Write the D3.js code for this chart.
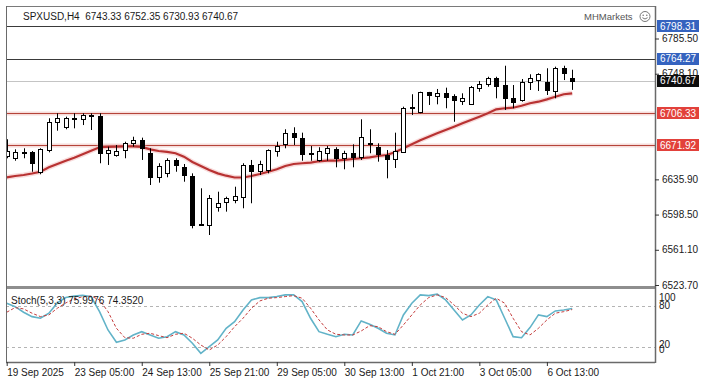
<!DOCTYPE html>
<html>
<head>
<meta charset="utf-8">
<script src="https://cdn.jsdelivr.net/npm/d3@7"></script>
<style>
  body { margin: 0; background: #fff; }
  svg text { font-family: "Liberation Sans", Arial, sans-serif; font-size: 10px; fill: #1a1a1a; }
</style>
</head>
<body>
<div id="container"></div>
<script>
/* CONSTANTS AND GLOBALS */
const width = 707, height = 387;
const plotL = 6, plotR = 655, plotT = 6, mainBottom = 286, stochTop = 290, stochBottom = 362;

/* DATA */
const symbolTitle = "SPXUSD,H4  6743.33 6752.35 6730.93 6740.67";
const stochTitle = "Stoch(5,3,3) 75.9976 74.3520";

const opens = [6660.7, 6658.9, 6665.3, 6665.3, 6644.0, 6667.1, 6697.1, 6691.8, 6700.8, 6700.3,
  6703.9, 6703.0, 6663.6, 6661.8, 6667.1, 6674.2, 6677.7, 6663.6, 6638.1, 6642.3,
  6656.5, 6649.4, 6639.5, 6588.0, 6587.4, 6606.9, 6612.2, 6614.0, 6617.5, 6650.8,
  6644.8, 6645.8, 6666.3, 6673.5, 6684.8, 6680.2, 6663.0, 6656.5, 6664.2, 6667.8,
  6658.3, 6664.2, 6660.0, 6674.0, 6670.6, 6661.8, 6657.5, 6665.3, 6712.4, 6707.1,
  6728.4, 6724.8, 6727.3, 6724.8, 6719.1, 6715.6, 6733.3, 6736.9, 6743.2, 6736.1,
  6722.0, 6720.2, 6739.0, 6741.1, 6739.0, 6729.8, 6754.5, 6743.33];
const highs = [6678.5, 6667.8, 6668.9, 6666.0, 6668.9, 6700.8, 6706.1, 6702.5, 6706.1, 6706.1,
  6706.1, 6706.1, 6670.6, 6672.4, 6675.9, 6681.2, 6680.2, 6668.9, 6653.0, 6658.3,
  6658.3, 6652.2, 6642.3, 6626.4, 6619.3, 6622.8, 6617.5, 6628.1, 6653.0, 6656.5,
  6655.7, 6667.8, 6675.9, 6689.1, 6691.2, 6685.5, 6671.3, 6670.0, 6671.3, 6670.0,
  6666.3, 6673.1, 6699.7, 6689.1, 6674.2, 6667.1, 6685.5, 6713.1, 6726.3, 6729.0,
  6728.8, 6731.9, 6733.3, 6726.3, 6727.3, 6735.1, 6740.4, 6744.9, 6744.9, 6756.6,
  6736.1, 6742.5, 6747.5, 6748.6, 6753.9, 6755.6, 6756.6, 6752.35];
const lows = [6658.3, 6655.7, 6658.3, 6644.0, 6641.3, 6664.6, 6687.6, 6689.1, 6690.1, 6693.6,
  6688.3, 6653.0, 6651.2, 6660.0, 6658.3, 6670.6, 6656.5, 6629.9, 6632.4, 6638.1,
  6644.0, 6633.4, 6583.9, 6587.0, 6576.8, 6601.6, 6601.6, 6610.5, 6605.2, 6610.5,
  6640.5, 6642.3, 6660.0, 6668.9, 6672.4, 6655.7, 6655.7, 6654.7, 6655.7, 6648.7,
  6646.6, 6648.7, 6656.5, 6663.6, 6654.7, 6637.0, 6648.0, 6664.6, 6704.3, 6706.1,
  6714.9, 6715.6, 6711.4, 6697.1, 6714.9, 6714.9, 6729.0, 6734.3, 6722.0, 6709.6,
  6711.4, 6718.4, 6730.8, 6729.8, 6725.5, 6722.0, 6741.4, 6730.93];
const closes = [6666.3, 6664.6, 6663.6, 6653.0, 6667.8, 6697.1, 6700.8, 6700.8, 6701.2, 6703.9,
  6703.5, 6663.6, 6667.1, 6666.0, 6674.2, 6677.7, 6668.9, 6638.1, 6650.1, 6656.5,
  6651.2, 6640.5, 6587.4, 6589.0, 6615.8, 6611.1, 6615.8, 6618.2, 6651.2, 6644.8,
  6652.2, 6667.1, 6671.3, 6684.8, 6680.6, 6662.8, 6663.6, 6666.0, 6668.9, 6658.3,
  6664.2, 6659.3, 6681.2, 6673.1, 6662.8, 6657.2, 6666.0, 6712.0, 6711.6, 6728.4,
  6725.5, 6727.3, 6723.1, 6720.2, 6722.6, 6734.3, 6736.9, 6743.9, 6735.4, 6722.0,
  6718.4, 6739.0, 6743.2, 6747.5, 6730.8, 6754.5, 6748.6, 6740.67];
const movingAvg = [6638.1, 6639.5, 6640.5, 6642.1, 6644.0, 6648.7, 6652.2, 6655.7, 6658.9, 6662.5,
  6666.3, 6670.0, 6670.4, 6670.6, 6670.9, 6670.9, 6670.4, 6667.8, 6666.0, 6665.0,
  6663.6, 6660.0, 6654.3, 6650.1, 6645.8, 6642.3, 6639.8, 6637.9, 6637.9, 6639.5,
  6641.6, 6644.0, 6646.6, 6650.1, 6652.2, 6653.0, 6653.6, 6655.1, 6655.7, 6655.7,
  6656.5, 6657.5, 6658.3, 6659.3, 6660.7, 6661.8, 6664.6, 6668.9, 6673.1, 6677.4,
  6681.2, 6684.8, 6688.3, 6691.8, 6695.4, 6699.0, 6702.5, 6706.1, 6710.3, 6711.4,
  6712.0, 6714.1, 6716.7, 6718.4, 6720.9, 6723.7, 6726.3, 6727.3];
const stochMain = [83.6, 78.6, 70.4, 64, 61.6, 69, 84, 92, 94, 95,
  93, 71.3, 44.5, 26.5, 29.9, 37.2, 42, 37.2, 32.4, 34.7,
  42, 37.2, 25, 10.4, 20, 29.9, 47, 56.7, 73.8, 88.4,
  91.8, 91.8, 93.3, 95.8, 95.8, 86, 61.6, 42, 38.2, 34.7,
  38.2, 37.2, 57.7, 52.9, 47, 39.7, 37.2, 66.5, 83.6, 95.8,
  94.7, 96.8, 88.4, 73.8, 59.2, 66.5, 81.1, 93.3, 88.4, 61.6,
  34.7, 33.2, 47.9, 66.5, 64, 72.3, 73.8, 76.0];
const stochSignal = [70.4, 77.2, 75.3, 69, 64, 66.5, 76.3, 84, 90, 93,
  94, 88.4, 71.3, 47, 33.2, 32.4, 38.2, 39.7, 36.2, 33.2,
  38.2, 39.7, 32.4, 22.5, 15.2, 22.5, 34.7, 49.3, 61.6, 76.3,
  87, 90.9, 91.8, 93.3, 94.7, 90.9, 76.3, 59.2, 44.5, 38.2,
  37.2, 37.2, 43, 50.8, 49.3, 42, 38.2, 51.8, 66.5, 81.1,
  91.8, 95.8, 91.8, 81.1, 69, 64, 69, 81.1, 90.9, 83.6,
  61.6, 42, 37.2, 47, 59.2, 69, 71.3, 74.35];

const timeLabels = ["19 Sep 2025", "23 Sep 05:00", "24 Sep 13:00", "25 Sep 21:00", "29 Sep 05:00",
  "30 Sep 13:00", "1 Oct 21:00", "3 Oct 05:00", "6 Oct 13:00"];
const timeTickBars = [0, 8, 16, 24, 32, 40, 48, 56, 64];
// 6710.70 and 6673.30 sit under the red tags in the reference, so they are left out
const priceTicks = [6785.50, 6748.10, 6635.90, 6598.50, 6561.10, 6523.70];
const blueLevels = [6798.31, 6764.27];
const redLevels = [6706.33, 6671.92];
const lastPrice = 6740.67;
const stochLevels = [80, 20];
const stochTicks = [100, 80, 20, 0];

/* SCALES */
const x = d3.scaleLinear().domain([0, opens.length - 1]).range([6.7, 572.2]);
const y = d3.scaleLinear().domain([6523.70, 6764.27]).range([285, 58.5]);
const yS = d3.scaleLinear().domain([0, 100]).range([360.4, 292]);

const svg = d3.select("#container").append("svg")
  .attr("width", width)
  .attr("height", height)
  .style("display", "block")
  .style("background", "#fff");

const defs = svg.append("defs");
defs.append("clipPath").attr("id", "clipMain")
  .append("rect").attr("x", plotL).attr("y", plotT).attr("width", plotR - plotL).attr("height", mainBottom - plotT);
defs.append("clipPath").attr("id", "clipStoch")
  .append("rect").attr("x", plotL).attr("y", stochTop).attr("width", plotR - plotL).attr("height", stochBottom - stochTop);

/* MAIN PANEL */
const main = svg.append("g").attr("clip-path", "url(#clipMain)");

main.selectAll("line.blue").data(blueLevels).join("line")
  .attr("x1", plotL).attr("x2", plotR)
  .attr("y1", d => Math.round(y(d)) + 0.5).attr("y2", d => Math.round(y(d)) + 0.5)
  .attr("stroke", "#3a3a3a").attr("stroke-width", 1);

// faint pink halo under the red levels, as in the screenshot
main.selectAll("line.redHalo").data(redLevels).join("line")
  .attr("x1", plotL).attr("x2", plotR)
  .attr("y1", d => Math.round(y(d)) + 0.5).attr("y2", d => Math.round(y(d)) + 0.5)
  .attr("stroke", "#f6dcda").attr("stroke-width", 4);
main.selectAll("line.red").data(redLevels).join("line")
  .attr("x1", plotL).attr("x2", plotR)
  .attr("y1", d => Math.round(y(d)) + 0.5).attr("y2", d => Math.round(y(d)) + 0.5)
  .attr("stroke", "#b5443a").attr("stroke-width", 1);

main.append("line")
  .attr("x1", plotL).attr("x2", plotR)
  .attr("y1", Math.round(y(lastPrice)) + 0.5).attr("y2", Math.round(y(lastPrice)) + 0.5)
  .attr("stroke", "#c4c4c4").attr("stroke-width", 1);

const maLine = d3.line().x((d, i) => x(i)).y(d => y(d));
main.append("path").datum(movingAvg)
  .attr("d", maLine).attr("fill", "none")
  .attr("stroke", "#f3c4c4").attr("stroke-width", 5).attr("opacity", 0.6);
main.append("path").datum(movingAvg)
  .attr("d", maLine).attr("fill", "none")
  .attr("stroke", "#b83232").attr("stroke-width", 2.2);

const candles = opens.map((o, i) => ({ i, o, h: highs[i], l: lows[i], c: closes[i] }));

main.selectAll("line.wick").data(candles).join("line")
  .attr("class", "wick")
  .attr("x1", d => Math.round(x(d.i)) + 0.5).attr("x2", d => Math.round(x(d.i)) + 0.5)
  .attr("y1", d => y(d.h)).attr("y2", d => y(d.l))
  .attr("stroke", "#000").attr("stroke-width", 1);

main.selectAll("rect.body").data(candles).join("rect")
  .attr("class", "body")
  .attr("x", d => Math.round(x(d.i)) - 1.5)
  .attr("width", 4)
  .attr("y", d => Math.round(y(Math.max(d.o, d.c))) + 0.5)
  .attr("height", d => Math.max(1, Math.round(y(Math.min(d.o, d.c))) - Math.round(y(Math.max(d.o, d.c)))))
  .attr("fill", d => d.c >= d.o ? "#fff" : "#000")
  .attr("stroke", "#000").attr("stroke-width", 1);

/* STOCH PANEL */
const stoch = svg.append("g").attr("clip-path", "url(#clipStoch)");
stoch.selectAll("line.lvl").data(stochLevels).join("line")
  .attr("x1", plotL).attr("x2", plotR)
  .attr("y1", d => Math.round(yS(d)) + 0.5).attr("y2", d => Math.round(yS(d)) + 0.5)
  .attr("stroke", "#b4b4b4").attr("stroke-dasharray", "3,3");

const sLine = d3.line().x((d, i) => x(i)).y(d => yS(d));
stoch.append("path").datum(stochMain)
  .attr("d", sLine).attr("fill", "none")
  .attr("stroke", "#62b3c8").attr("stroke-width", 1.6);
stoch.append("path").datum(stochSignal)
  .attr("d", sLine).attr("fill", "none")
  .attr("stroke", "#c53d3d").attr("stroke-width", 1).attr("stroke-dasharray", "3,2");

/* FRAMES */
svg.append("line").attr("x1", plotL).attr("x2", plotR).attr("y1", plotT + 0.5).attr("y2", plotT + 0.5)
  .attr("stroke", "#7a7a7a");
svg.append("rect").attr("x", plotL).attr("y", mainBottom).attr("width", plotR - plotL).attr("height", 3)
  .attr("fill", "#8e8e8e");
svg.append("line").attr("x1", plotL + 0.5).attr("x2", plotL + 0.5).attr("y1", plotT).attr("y2", stochBottom)
  .attr("stroke", "#6a6a6a");
svg.append("line").attr("x1", plotR + 0.5).attr("x2", plotR + 0.5).attr("y1", plotT).attr("y2", stochBottom + 1)
  .attr("stroke", "#6a6a6a").attr("stroke-width", 1.5);
svg.append("line").attr("x1", plotL).attr("x2", plotR).attr("y1", stochBottom + 0.5).attr("y2", stochBottom + 0.5)
  .attr("stroke", "#6a6a6a").attr("stroke-width", 1.5);

/* AXES */
const priceAxis = d3.axisRight(y).tickValues(priceTicks).tickFormat(d3.format(".2f"))
  .tickSize(4).tickPadding(3);
svg.append("g").attr("transform", `translate(${plotR},0)`).call(priceAxis)
  .call(g => g.select(".domain").remove())
  .call(g => g.selectAll("line").attr("stroke", "#333"))
  .call(g => g.selectAll("text").attr("font-size", 10).attr("font-family", "Liberation Sans, Arial, sans-serif").attr("fill", "#1a1a1a"));

const stochAxis = d3.axisRight(yS).tickValues(stochTicks).tickFormat(d3.format("d"))
  .tickSize(0).tickPadding(4);
svg.append("g").attr("transform", `translate(${plotR},0)`).call(stochAxis)
  .call(g => g.select(".domain").remove())
  .call(g => g.selectAll("text")
    .attr("font-size", 10).attr("font-family", "Liberation Sans, Arial, sans-serif").attr("fill", "#1a1a1a")
    .attr("dy", d => d === 100 ? "0.85em" : d === 0 ? "-0.75em" : d === 20 ? "0.1em" : "0.32em"));

const timeAxis = d3.axisBottom(x).tickValues(timeTickBars)
  .tickFormat((d, i) => timeLabels[i]).tickSize(4).tickPadding(3);
svg.append("g").attr("transform", `translate(0,${stochBottom})`).call(timeAxis)
  .call(g => g.select(".domain").remove())
  .call(g => g.selectAll("line").attr("stroke", "#333"))
  .call(g => g.selectAll("text").attr("text-anchor", "start")
    .attr("font-size", 10).attr("font-family", "Liberation Sans, Arial, sans-serif").attr("fill", "#1a1a1a"));

/* PRICE TAGS */
const tags = [
  ...blueLevels.map(p => ({ p, bg: "#3563bf" })),
  { p: lastPrice, bg: "#0d0d0d" },
  ...redLevels.map(p => ({ p, bg: "#e2413b" }))
];
const tag = svg.selectAll("g.tag").data(tags).join("g").attr("class", "tag");
tag.append("rect")
  .attr("x", plotR + 2).attr("y", d => Math.round(y(d.p)) - 6)
  .attr("width", 42).attr("height", 12).attr("fill", d => d.bg);
tag.append("text")
  .attr("x", plotR + 5).attr("y", d => y(d.p)).attr("dy", "0.35em")
  .style("fill", "#fff").text(d => d3.format(".2f")(d.p));

/* LABELS */
svg.append("text").attr("x", 23).attr("y", 20).style("white-space", "pre").text(symbolTitle);
svg.append("text").attr("x", 11).attr("y", 303.5).text(stochTitle);
svg.append("text").attr("x", 584).attr("y", 20).style("fill", "#555").style("font-size", "9.5px").text("MHMarkets");
const logo = svg.append("g").attr("transform", "translate(645,16.5)");
logo.append("circle").attr("r", 5).attr("fill", "none").attr("stroke", "#777");
logo.append("circle").attr("cx", -1.8).attr("cy", -1.3).attr("r", 0.8).attr("fill", "#777");
logo.append("circle").attr("cx", 1.8).attr("cy", -1.3).attr("r", 0.8).attr("fill", "#777");
logo.append("path").attr("d", "M-2.6,1.2 Q0,3.8 2.6,1.2").attr("fill", "none").attr("stroke", "#777");
</script>
</body>
</html>
